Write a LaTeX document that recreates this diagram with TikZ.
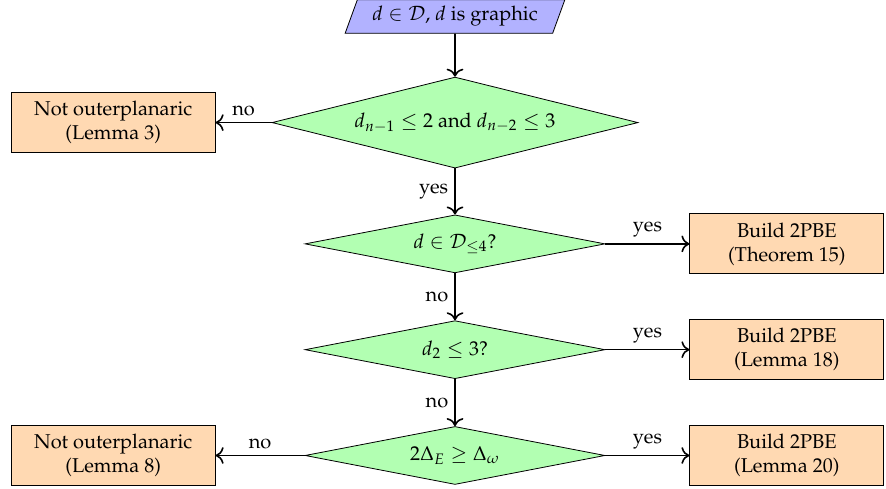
\documentclass[tikz,border=0pt]{standalone}
\usepackage[T1]{fontenc}
\usepackage{mathpazo}
\usepackage{tikz}
\usetikzlibrary{arrows.meta, positioning, shapes.geometric}
\tikzset{
    io/.style={trapezium, trapezium left angle=70, trapezium right angle=110,
               draw, fill=blue!30, inner xsep=7.5pt, minimum height=16.5pt},
    decision/.style={diamond, draw, fill=green!30, aspect=5, inner sep=1pt,
                     minimum width=150pt, minimum height=29pt},
    bigdecision/.style={decision, aspect=4, inner sep=2pt, minimum width=183pt, minimum height=45.5pt},
    result/.style={draw, fill=orange!30, align=center, minimum height=30pt, inner sep=2pt},
    nobox/.style={result, minimum width=102pt},
    yesbox/.style={result, minimum width=97pt},
    arrow/.style={-{To[length=4pt]}, thick},
    lbl/.style={inner sep=3pt},
}

\begin{document}
\begin{tikzpicture}[node distance=23.5pt and 42pt]
    \useasboundingbox (0,0) rectangle (443pt,-244pt);
    \node[io] (inp) at (227.5pt,-8.25pt) {$d\in\mathcal{D}$, $d$ is graphic};
    \node[bigdecision, below=21.5pt of inp] (deg) {$d_{n-1}\leq 2$ and $d_{n-2}\leq 3$};
    \node[decision, below=23pt of deg] (dfour) {$d\in\mathcal{D}_{\leq 4}$?};
    \node[decision, below=of dfour] (dtwo) {$d_2\leq 3$?};
    \node[decision, below=of dtwo] (delt) {$2\Delta_E\geq\Delta_\omega$};
    \node[nobox, left=28pt of deg] (nop3) {Not outerplanaric\\(Lemma 3)};
    \node[nobox, left=44.5pt of delt] (nop8) {Not outerplanaric\\(Lemma 8)};
    \node[yesbox, right=of dfour] (th15) {Build 2PBE\\(Theorem 15)};
    \node[yesbox, right=of dtwo] (lm18) {Build 2PBE\\(Lemma 18)};
    \node[yesbox, right=of delt] (lm20) {Build 2PBE\\(Lemma 20)};
    \draw[arrow] (inp) -- (deg);
    \draw[arrow] (deg) -- node[lbl, above] {no} (nop3);
    \draw[arrow] (deg) -- node[lbl, left] {yes} (dfour);
    \draw[arrow] (dfour) -- node[lbl, above] {yes} (th15);
    \draw[arrow] (dfour) -- node[lbl, left] {no} (dtwo);
    \draw[arrow] (dtwo) -- node[lbl, above] {yes} (lm18);
    \draw[arrow] (dtwo) -- node[lbl, left] {no} (delt);
    \draw[arrow] (delt) -- node[lbl, above] {no} (nop8);
    \draw[arrow] (delt) -- node[lbl, above] {yes} (lm20);
\end{tikzpicture}
\end{document}
